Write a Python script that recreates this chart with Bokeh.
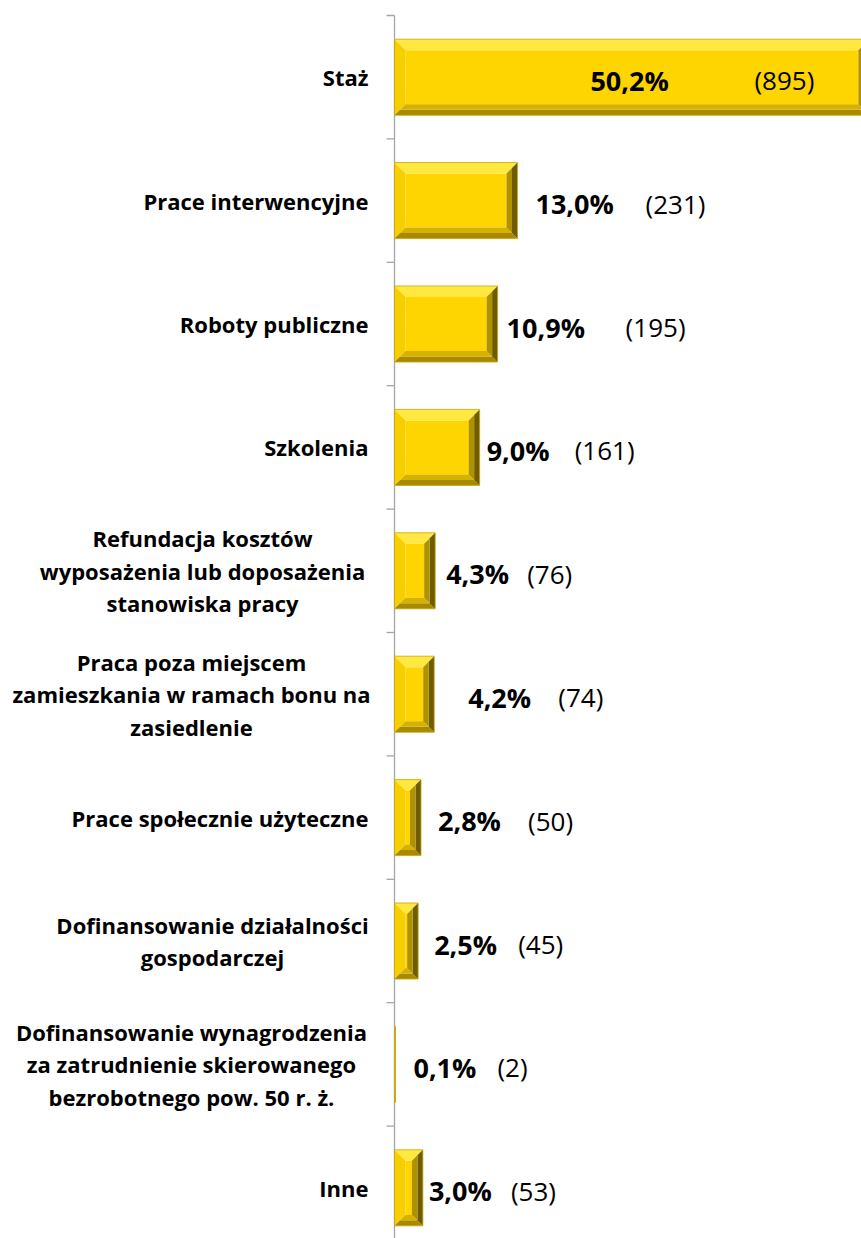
from bokeh.plotting import figure
from bokeh.models import Range1d, Label
from bokeh.embed import file_html
from bokeh.resources import INLINE

# ---- data ----
categories = [
    "Staż",
    "Prace interwencyjne",
    "Roboty publiczne",
    "Szkolenia",
    "Refundacja kosztów\nwyposażenia lub doposażenia\nstanowiska pracy",
    "Praca poza miejscem\nzamieszkania w ramach bonu na\nzasiedlenie",
    "Prace społecznie użyteczne",
    "Dofinansowanie działalności\ngospodarczej",
    "Dofinansowanie wynagrodzenia\nza zatrudnienie skierowanego\nbezrobotnego pow. 50 r. ż.",
    "Inne",
]
percent = [50.2, 13.0, 10.9, 9.0, 4.3, 4.2, 2.8, 2.5, 0.1, 3.0]
counts = [895, 231, 195, 161, 76, 74, 50, 45, 2, 53]

# ---- style (label offsets in screen px) ----
pct_dx = [-279, 18, 9, 7, 11, 34, 17, 16, 18, 6]
cnt_dx = [-115, 128, 128, 95, 92, 124, 107, 100, 102, 88]
cat_center_dx = [None, None, None, None, -192, -203, None, -182, -203, None]

W, H = 861, 1238
AXIS_PX = 394
TOP_PX = 15
PX_PER_PCT = 9.46
BAND_PX = 123.4
BAR_H = 0.616
BEVEL_PX = 11
TICK_PX = 8

n = len(categories)
x_start = -AXIS_PX / PX_PER_PCT
x_end = (W - AXIS_PX) / PX_PER_PCT
y_top = -0.5 - TOP_PX / BAND_PX
y_bottom = -0.5 + (H - TOP_PX) / BAND_PX

p = figure(width=W, height=H, output_backend="svg", toolbar_location=None,
           x_range=Range1d(x_start, x_end), y_range=Range1d(y_bottom, y_top),
           min_border=0)
p.outline_line_color = None
p.grid.visible = False
p.axis.visible = False
p.background_fill_color = "white"
p.border_fill_color = "white"

# ---- category axis: line + boundary ticks ----
bounds = [i - 0.5 for i in range(n + 1)]
p.segment(x0=[0], y0=[-0.5], x1=[0], y1=[y_bottom], line_color="#A6A6A6", line_width=1.3)
p.segment(x0=[-TICK_PX / PX_PER_PCT] * len(bounds), y0=bounds, x1=[0] * len(bounds), y1=bounds,
          line_color="#A6A6A6", line_width=1.3)

# ---- bevelled bars built from data ----
faces = {"xs": [], "ys": []}
tops = {"xs": [], "ys": []}
lefts = {"xs": [], "ys": []}
rights_o = {"xs": [], "ys": []}
rights_i = {"xs": [], "ys": []}
bots_o = {"xs": [], "ys": []}
bots_i = {"xs": [], "ys": []}
for i, v in enumerate(percent):
    x0, x1 = 0.0, v
    yt, yb = i - BAR_H / 2, i + BAR_H / 2
    w_px = v * PX_PER_PCT
    h_px = BAR_H * BAND_PX
    b = min(BEVEL_PX, w_px / 2, h_px / 2)
    bx = b / PX_PER_PCT
    by = b / BAND_PX
    faces["xs"].append([x0 + bx, x1 - bx, x1 - bx, x0 + bx])
    faces["ys"].append([yt + by, yt + by, yb - by, yb - by])
    tops["xs"].append([x0, x1, x1 - bx, x0 + bx])
    tops["ys"].append([yt, yt, yt + by, yt + by])
    lefts["xs"].append([x0, x0 + bx, x0 + bx, x0])
    lefts["ys"].append([yt, yt + by, yb - by, yb])
    bots_o["xs"].append([x0, x1, x1 - bx / 2, x0 + bx / 2])
    bots_o["ys"].append([yb, yb, yb - by / 2, yb - by / 2])
    bots_i["xs"].append([x0 + bx / 2, x1 - bx / 2, x1 - bx, x0 + bx])
    bots_i["ys"].append([yb - by / 2, yb - by / 2, yb - by, yb - by])
    rights_o["xs"].append([x1, x1 - bx / 2, x1 - bx / 2, x1])
    rights_o["ys"].append([yt, yt + by / 2, yb - by / 2, yb])
    rights_i["xs"].append([x1 - bx / 2, x1 - bx, x1 - bx, x1 - bx / 2])
    rights_i["ys"].append([yt + by / 2, yt + by, yb - by, yb - by / 2])

p.patches(faces["xs"], faces["ys"], fill_color="#FFD500", line_color=None)
p.patches(tops["xs"], tops["ys"], fill_color="#FFE840", line_color=None)
p.patches(lefts["xs"], lefts["ys"], fill_color="#F7CF00", line_color=None)
p.patches(bots_o["xs"], bots_o["ys"], fill_color="#A88A00", line_color=None)
p.patches(bots_i["xs"], bots_i["ys"], fill_color="#D6B200", line_color=None)
p.patches(rights_o["xs"], rights_o["ys"], fill_color="#6E5C00", line_color=None)
p.patches(rights_i["xs"], rights_i["ys"], fill_color="#B09200", line_color=None)
p.hbar(y=list(range(n)), right=percent, left=0, height=BAR_H,
       fill_color=None, line_color="#C9A300", line_width=0.8)

# ---- labels ----
FONT = "Open Sans"
for i, (cat, v, c) in enumerate(zip(categories, percent, counts)):
    if cat_center_dx[i] is None:
        p.add_layout(Label(x=0, y=i, x_offset=-26, text=cat, text_align="right",
                           text_baseline="middle", text_font=FONT, text_font_style="bold",
                           text_font_size="22px", text_color="#000000"))
    else:
        p.add_layout(Label(x=0, y=i, x_offset=cat_center_dx[i], text=cat, text_align="center",
                           text_baseline="middle", text_font=FONT, text_font_style="bold",
                           text_font_size="22px", text_color="#000000", text_line_height=1.09))
    pct_txt = f"{v:.1f}%".replace(".", ",")
    p.add_layout(Label(x=v, y=i, x_offset=pct_dx[i], y_offset=-3, text=pct_txt, text_align="left",
                       text_baseline="middle", text_font=FONT, text_font_style="bold",
                       text_font_size="27px", text_color="#000000"))
    p.add_layout(Label(x=v, y=i, x_offset=cnt_dx[i], y_offset=-3, text=f"({c})", text_align="left",
                       text_baseline="middle", text_font=FONT, text_font_style="normal",
                       text_font_size="26px", text_color="#000000"))

open("out.html", "w").write(file_html(p, INLINE))
